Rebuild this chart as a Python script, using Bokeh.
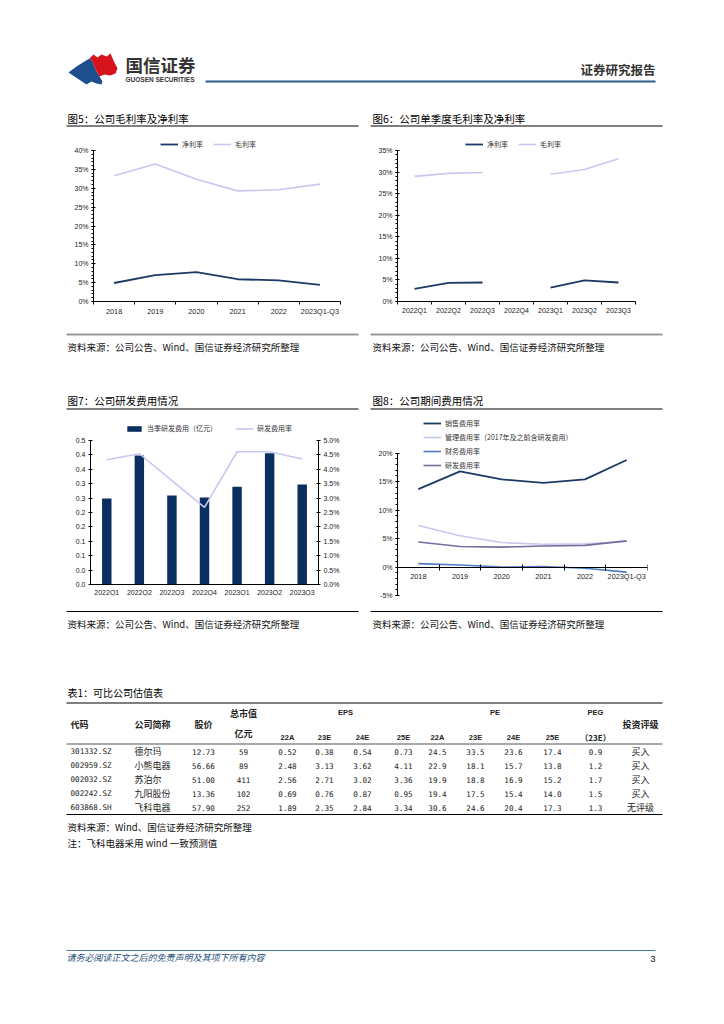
import numpy as np
from bokeh.plotting import figure
from bokeh.models import (Range1d, LinearAxis, FixedTicker, Legend, LegendItem,
                          PrintfTickFormatter)
from bokeh.layouts import column, row
from bokeh.core.properties import value
from bokeh.embed import file_html
from bokeh.resources import INLINE

CJK = "Noto Sans CJK SC"
LAT = "Liberation Sans"
MONO = "DejaVu Sans Mono"

# ---------------- data ----------------
years = ["2018", "2019", "2020", "2021", "2022", "2023Q1-Q3"]
net_margin = [4.9, 7.0, 7.8, 5.9, 5.6, 4.4]
gross_margin = [33.3, 36.4, 32.4, 29.3, 29.6, 31.1]

quarters = ["2022Q1", "2022Q2", "2022Q3", "2022Q4", "2023Q1", "2023Q2", "2023Q3"]
q_net_margin = [2.9, 4.3, 4.4, np.nan, 3.2, 4.9, 4.4]
q_gross_margin = [29.0, 29.7, 29.9, np.nan, 29.5, 30.6, 33.1]

rd_expense = [0.299, 0.448, 0.309, 0.302, 0.339, 0.456, 0.347]
rd_expense_ratio = [4.33, 4.54, 3.61, 2.68, 4.61, 4.61, 4.36]

sales_ratio = [13.7, 16.8, 15.4, 14.8, 15.4, 18.8]
admin_ratio = [7.3, 5.5, 4.3, 4.0, 4.1, 4.5]
fin_ratio = [0.6, 0.35, 0.0, 0.1, -0.2, -0.9]
rd_ratio = [4.4, 3.6, 3.5, 3.7, 3.8, 4.6]

codes = ["301332.SZ", "002959.SZ", "002032.SZ", "002242.SZ", "603868.SH"]
names = ["德尔玛", "小熊电器", "苏泊尔", "九阳股份", "飞科电器"]
prices = [12.73, 56.66, 51.00, 13.36, 57.90]
mcaps = [59, 89, 411, 102, 252]
eps_22a = [0.52, 2.48, 2.56, 0.69, 1.89]
eps_23e = [0.38, 3.13, 2.71, 0.76, 2.35]
eps_24e = [0.54, 3.62, 3.02, 0.87, 2.84]
eps_25e = [0.73, 4.11, 3.36, 0.95, 3.34]
pe_22a = [24.5, 22.9, 19.9, 19.4, 30.6]
pe_23e = [33.5, 18.1, 18.8, 17.5, 24.6]
pe_24e = [23.6, 15.7, 16.9, 15.4, 20.4]
pe_25e = [17.4, 13.8, 15.2, 14.0, 17.3]
peg_23e = [0.9, 1.2, 1.7, 1.5, 1.3]
ratings = ["买入", "买入", "买入", "买入", "无评级"]
year_cols = ["22A", "23E", "24E", "25E"]

# ---------------- colours ----------------
NAVY = "#1b3a66"
LAV = "#c9c7f1"
BAR = "#0c2f62"
FINC = "#4d7cc2"
RDC = "#7a6a9b"


def canvas(x0, x1, y0, y1, **kw):
    p = figure(width=int(x1 - x0), height=int(y1 - y0),
               x_range=Range1d(x0, x1), y_range=Range1d(y1, y0),
               x_axis_type=None, y_axis_type=None,
               output_backend="svg", toolbar_location=None, min_border=0, **kw)
    p.grid.visible = False
    p.outline_line_color = None
    p.background_fill_alpha = 0
    p.border_fill_alpha = 0
    return p


def txt(p, x, y, s, size, font=CJK, color="#111", align="left", style="normal"):
    p.text(x=x if isinstance(x, list) else [x], y=y if isinstance(y, list) else [y],
           text=s if isinstance(s, list) else [s],
           text_font=value(font), text_font_size=f"{size}px", text_color=color,
           text_align=align, text_baseline="middle", text_font_style=style)


def rule(p, x0, x1, y, color="#000", w=1.0):
    p.segment(x0=[x0], y0=[y], x1=[x1], y1=[y], line_color=color, line_width=w)


def chart(width, height, xr, yr, ml, mr, mt, mb):
    p = figure(width=width, height=height, x_range=xr, y_range=yr,
               output_backend="svg", toolbar_location=None,
               min_border_left=ml, min_border_right=mr,
               min_border_top=mt, min_border_bottom=mb)
    p.grid.visible = False
    p.outline_line_color = None
    return p


def style_axis(ax, size="7px"):
    ax.axis_line_color = "#000"
    ax.axis_line_width = 1
    ax.major_label_text_font = LAT
    ax.major_label_text_font_size = size
    ax.major_label_text_color = "#222"
    ax.major_tick_line_color = "#000"
    ax.major_tick_in = 2
    ax.major_tick_out = 2
    ax.minor_tick_line_color = "#000"
    ax.minor_tick_in = 0
    ax.minor_tick_out = 2
    ax.major_label_standoff = 3


def cat_xaxis(p, cats, cross=False, size="7px"):
    centers = [i + 0.5 for i in range(len(cats))]
    ax = p.xaxis[0]
    ax.ticker = FixedTicker(ticks=centers, minor_ticks=list(range(len(cats) + 1)))
    ax.major_label_overrides = {c: s for c, s in zip(centers, cats)}
    style_axis(ax, size)
    ax.major_tick_line_color = None
    ax.minor_tick_out = 3
    ax.minor_tick_in = 3 if cross else 0
    ax.major_label_standoff = 2
    return centers


def make_legend(items, loc, orient="horizontal", spacing=10, gh=10):
    return Legend(items=items, location=loc, orientation=orient,
                  border_line_color=None, background_fill_alpha=0,
                  padding=0, margin=0, spacing=spacing, label_standoff=4,
                  glyph_width=18, glyph_height=gh, label_height=10,
                  label_text_font=CJK, label_text_font_size="7px",
                  label_text_color="#333")


# ---------------- band 1: header ----------------
b1 = canvas(0, 716, 0, 132)
b1.patch(x=[68, 76, 84, 89, 92, 94, 96, 99, 102, 101, 96, 91, 86, 80, 74],
         y=[72, 66, 61, 58, 61, 66, 71, 76, 81, 84, 83, 81, 84, 80, 76],
         fill_color="#1d4f8c", line_color=None)
b1.patch(x=[89, 93, 97, 101, 106, 110, 113, 117, 115, 110, 104, 99, 96, 94, 92],
         y=[58, 54, 57, 54, 56, 53, 60, 68, 73, 75, 74, 76, 71, 66, 61],
         fill_color="#d6141c", line_color=None)
txt(b1, 125, 64, "国信证券", 17.5, color="#333", style="bold")
txt(b1, 125, 78.5, "GUOSEN SECURITIES", 6.5, font=LAT, color="#333", style="bold")
rule(b1, 205, 655, 81, color="#2d5b8c", w=2)
txt(b1, 655, 69, "证券研究报告", 12.5, color="#333", align="right", style="bold")
txt(b1, 67, 118, "图5：公司毛利率及净利率", 10.5, color="#000")
txt(b1, 372, 118, "图6：公司单季度毛利率及净利率", 10.5, color="#000")
rule(b1, 66, 358, 125.5, w=1.2)
rule(b1, 370, 662, 125.5, w=1.2)

# ---------------- chart 5 ----------------
# frame spans y 136..301 (0% at 301, 40% at 150); axis line bounded to 0..40
p5 = chart(364, 198, Range1d(0, 6), Range1d(0, 40 + 14 / 3.775), 93, 24, 4, 29)
c5 = cat_xaxis(p5, years, size="7.3px")
r5a = p5.line(c5, net_margin, line_color=NAVY, line_width=1.8)
r5b = p5.line(c5, gross_margin, line_color=LAV, line_width=1.6)
ya = p5.yaxis[0]
ya.ticker = FixedTicker(ticks=list(range(0, 41, 5)), minor_ticks=list(range(0, 41)))
ya.formatter = PrintfTickFormatter(format="%d%%")
ya.bounds = (0, 40)
style_axis(ya)
p5.add_layout(make_legend([LegendItem(label="净利率", renderers=[r5a]),
                           LegendItem(label="毛利率", renderers=[r5b])], (67, 152)), "center")

# ---------------- chart 6 ----------------
p6 = chart(352, 198, Range1d(0, 7), Range1d(0, 35 + 14 / 4.314), 33, 81, 4, 29)
c6 = cat_xaxis(p6, quarters)
r6a = p6.line(c6, q_net_margin, line_color=NAVY, line_width=1.8)
r6b = p6.line(c6, q_gross_margin, line_color=LAV, line_width=1.6)
ya = p6.yaxis[0]
ya.ticker = FixedTicker(ticks=list(range(0, 36, 5)), minor_ticks=list(range(0, 36)))
ya.formatter = PrintfTickFormatter(format="%d%%")
ya.bounds = (0, 35)
style_axis(ya)
p6.add_layout(make_legend([LegendItem(label="净利率", renderers=[r6a]),
                           LegendItem(label="毛利率", renderers=[r6b])], (68, 152)), "center")

# ---------------- band 3 ----------------
b3 = canvas(0, 716, 330, 412)
rule(b3, 66, 358, 334, color="#999", w=2)
rule(b3, 370, 662, 334, color="#999", w=2)
src = "资料来源：公司公告、Wind、国信证券经济研究所整理"
txt(b3, 67, 346, src, 9.5)
txt(b3, 372, 346, src, 9.5)
txt(b3, 67, 400, "图7：公司研发费用情况", 10.5, color="#000")
txt(b3, 372, 400, "图8：公司期间费用情况", 10.5, color="#000")
rule(b3, 66, 358, 408.5, w=1.2)
rule(b3, 370, 662, 408.5, w=1.2)

# ---------------- chart 7 ----------------
# row band 412..617; both frames of the row span y 416..595
# chart 7: 0 at y 584, 0.5 at y 440 (288 px per unit)
p7 = chart(364, 205, Range1d(0, 7), Range1d(-11 / 288, 0.5 + 24 / 288), 90, 46, 4, 22)
c7 = cat_xaxis(p7, quarters)
ax7 = p7.xaxis[0]
ax7.fixed_location = 0
ax7.minor_tick_out = 0
ax7.major_label_standoff = 2
p7.extra_y_ranges = {"pct": Range1d(-110 / 288, 5 + 240 / 288)}
r7a = p7.vbar(x=c7, top=rd_expense, width=0.29, fill_color=BAR, line_color=None)
r7b = p7.line(c7, rd_expense_ratio, y_range_name="pct", line_color=LAV, line_width=1.6)
left_ticks = [0.0, 0.05, 0.1, 0.15, 0.2, 0.25, 0.3, 0.35, 0.4, 0.45, 0.5]
left_labels = ["0.0", "0.0", "0.1", "0.1", "0.2", "0.2", "0.3", "0.3", "0.4", "0.4", "0.5"]
ya = p7.yaxis[0]
ya.ticker = FixedTicker(ticks=left_ticks)
ya.major_label_overrides = {t: s for t, s in zip(left_ticks, left_labels)}
ya.bounds = (0, 0.5)
style_axis(ya)
right_ticks = [0.0, 0.5, 1.0, 1.5, 2.0, 2.5, 3.0, 3.5, 4.0, 4.5, 5.0]
ra = LinearAxis(y_range_name="pct", ticker=FixedTicker(ticks=right_ticks),
                formatter=PrintfTickFormatter(format="%.1f%%"), bounds=(0, 5))
style_axis(ra)
p7.add_layout(ra, "right")
p7.add_layout(make_legend([LegendItem(label="当季研发费用（亿元）", renderers=[r7a]),
                           LegendItem(label="研发费用率", renderers=[r7b])],
                          (35, 162), spacing=18, gh=7), "center")

# ---------------- chart 8 ----------------
# frame spans y 416..595 (-5% at 595, 20% at 452.7)
p8 = chart(352, 205, Range1d(0, 6), Range1d(-5, 20 + 36.7 / 5.69), 33, 69, 4, 22)
c8 = cat_xaxis(p8, years, cross=True, size="7.3px")
p8.xaxis[0].fixed_location = 0
r8a = p8.line(c8, sales_ratio, line_color=NAVY, line_width=1.8)
r8b = p8.line(c8, admin_ratio, line_color=LAV, line_width=1.6)
r8c = p8.line(c8, fin_ratio, line_color=FINC, line_width=1.6)
r8d = p8.line(c8, rd_ratio, line_color=RDC, line_width=1.6)
ya = p8.yaxis[0]
ya.ticker = FixedTicker(ticks=list(range(-5, 21, 5)), minor_ticks=list(range(-5, 21)))
ya.formatter = PrintfTickFormatter(format="%d%%")
ya.bounds = (-5, 20)
style_axis(ya)
p8.add_layout(make_legend([LegendItem(label="销售费用率", renderers=[r8a]),
                           LegendItem(label="管理费用率（2017年及之前含研发费用）", renderers=[r8b]),
                           LegendItem(label="财务费用率", renderers=[r8c]),
                           LegendItem(label="研发费用率", renderers=[r8d])],
                          (26, 125), orient="vertical", spacing=4), "center")

# ---------------- band 5: sources, table, footer ----------------
# starts at 605 (pulled up over the empty bottom border of the chart row)
b5 = canvas(0, 716, 605, 1016, margin=(-12, 0, 0, 0))
rule(b5, 66, 358, 611, w=1.2)
rule(b5, 370, 662, 611, w=1.2)
txt(b5, 67, 623, src, 9.5)
txt(b5, 372, 623, src, 9.5)

txt(b5, 67, 692, "表1：可比公司估值表", 10, color="#000")
rule(b5, 66, 662, 702.5, w=1.2)
HB = dict(color="#222", style="bold")
x_code, x_name, x_name_h, x_price, x_mcap = 70, 134, 152, 203, 243
x_eps = [287, 324, 362, 403]
x_pe = [437, 475, 513, 552]
x_peg, x_rate = 595, 640
txt(b5, x_code, 724, "代码", 9, **HB)
txt(b5, x_name_h, 724, "公司简称", 9, align="center", **HB)
txt(b5, x_price, 724, "股价", 9, align="center", **HB)
txt(b5, x_mcap, 713, "总市值", 9, align="center", **HB)
txt(b5, x_mcap, 733, "亿元", 9, align="center", **HB)
txt(b5, (x_eps[0] + x_eps[-1]) / 2, 712, "EPS", 7.5, font=LAT, align="center", **HB)
txt(b5, (x_pe[0] + x_pe[-1]) / 2, 712, "PE", 7.5, font=LAT, align="center", **HB)
txt(b5, x_peg, 712, "PEG", 7.5, font=LAT, align="center", **HB)
txt(b5, x_eps + x_pe, [737] * 8, year_cols + year_cols, 7.5, font=LAT, align="center", **HB)
txt(b5, x_peg, 737, "（23E）", 8, align="center", **HB)
txt(b5, x_rate, 724, "投资评级", 9, align="center", **HB)
rule(b5, 66, 662, 743.5, color="#8c8c8c", w=1.5)

row_y = [751 + 14 * i for i in range(len(codes))]
D = dict(color="#222")
txt(b5, [x_code] * 5, row_y, codes, 7.6, font=MONO, **D)
txt(b5, [x_name] * 5, row_y, names, 9, **D)
txt(b5, [x_price] * 5, row_y, [f"{v:.2f}" for v in prices], 7.6, font=MONO, align="center", **D)
txt(b5, [x_mcap] * 5, row_y, [f"{v:d}" for v in mcaps], 7.6, font=MONO, align="center", **D)
for xx, col in zip(x_eps, [eps_22a, eps_23e, eps_24e, eps_25e]):
    txt(b5, [xx] * 5, row_y, [f"{v:.2f}" for v in col], 7.6, font=MONO, align="center", **D)
for xx, col in zip(x_pe, [pe_22a, pe_23e, pe_24e, pe_25e]):
    txt(b5, [xx] * 5, row_y, [f"{v:.1f}" for v in col], 7.6, font=MONO, align="center", **D)
txt(b5, [x_peg] * 5, row_y, [f"{v:.1f}" for v in peg_23e], 7.6, font=MONO, align="center", **D)
txt(b5, [x_rate] * 5, row_y, ratings, 9, align="center", **D)
rule(b5, 66, 662, 814, w=1.1)
txt(b5, 67, 826, "资料来源：Wind、国信证券经济研究所整理", 9.5)
txt(b5, 67, 842, "注：飞科电器采用 wind 一致预测值", 9.5)

rule(b5, 66, 655, 950, color="#4f7aa3", w=1)
txt(b5, 66, 957, "请务必阅读正文之后的免责声明及其项下所有内容", 9, color="#1f4e79", style="italic")
txt(b5, 655, 958, "3", 9.5, font=LAT, color="#111", align="right")

layout = column(b1, row(p5, p6, spacing=0), b3, row(p7, p8, spacing=0), b5, spacing=0)
open("out.html", "w").write(file_html(layout, INLINE))
